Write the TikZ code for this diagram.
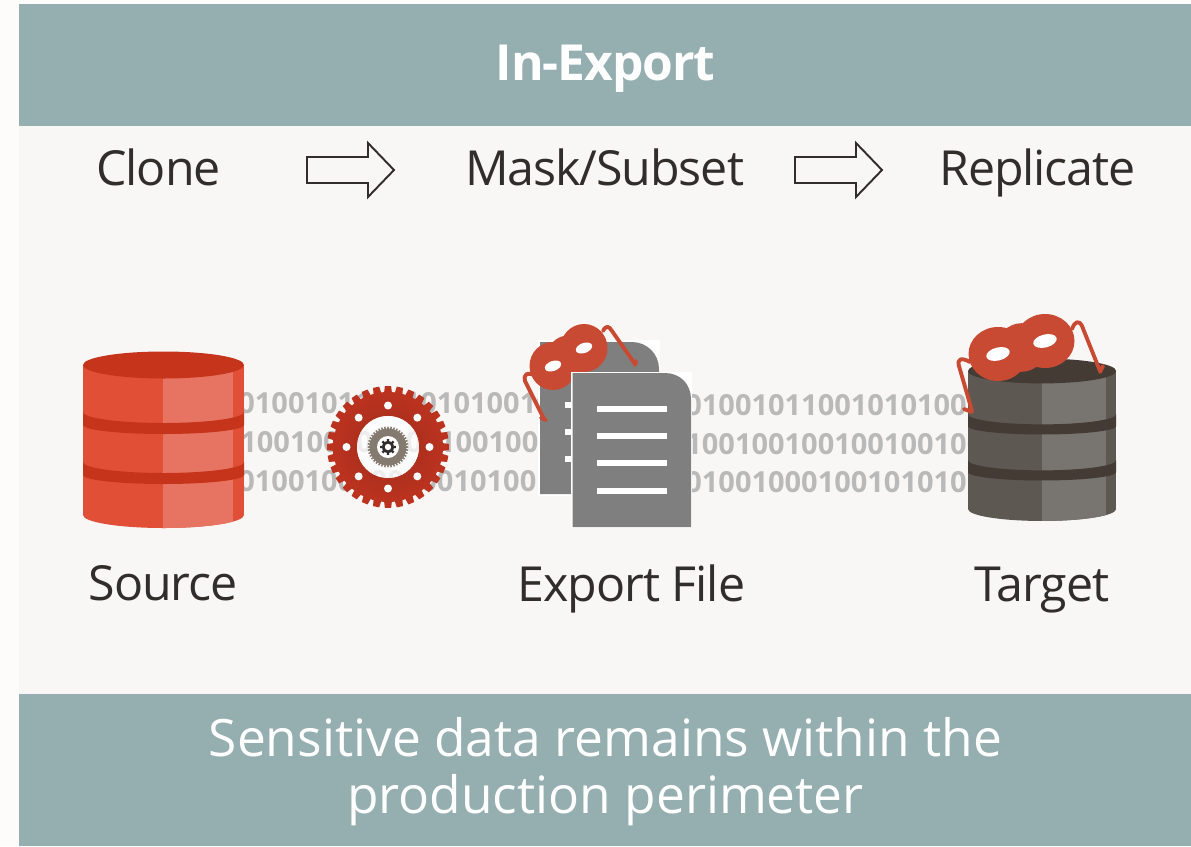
\documentclass[tikz,border=0pt]{standalone}
\usepackage{fontspec}
\setmainfont{Open Sans}
\newfontfamily\tightfont[LetterSpace=-2.2]{Open Sans}
\definecolor{panelbg}{HTML}{F8F7F5}
\definecolor{edgebg}{HTML}{FDFCFB}
\definecolor{bannerteal}{HTML}{95AEAF}
\definecolor{inktext}{HTML}{312D2A}
\definecolor{bitsgray}{HTML}{B9B9B9}
\definecolor{pagegray}{HTML}{7F7F7F}
\definecolor{maskred}{HTML}{C94A33}
\definecolor{gearred}{HTML}{BB331F}
\definecolor{geardark}{HTML}{9E2B1B}
\definecolor{geargray}{HTML}{857A70}
\definecolor{srcbase}{HTML}{E04F36}
\definecolor{srclight}{HTML}{E77362}
\definecolor{srctop}{HTML}{C5341B}
\definecolor{tgtbase}{HTML}{5D5852}
\definecolor{tgtlight}{HTML}{787570}
\definecolor{tgttop}{HTML}{443B35}
\tikzset{
  steplabel/.style={anchor=base, inner sep=0pt, text=inktext, font=\tightfont\fontsize{27.5}{30}\selectfont},
  bitsline/.style={anchor=base west, inner sep=0pt, text=bitsgray, font=\fontsize{16.5}{18}\selectfont\bfseries},
  blockarrow/.style={draw=inktext, line width=1.1pt, line join=miter},
  maskstrap/.style={draw=maskred, line width=2.2pt, line cap=round, line join=round},
  pageline/.style={fill=white}
}
% left x, top y, scale, then base, light and top colours
\newcommand{\dbcyl}[6]{
  \begin{scope}[shift={(#1, #2)}, scale=#3]
    \begin{scope}
      \clip (0, 0) -- (0, 150) arc [start angle=180, end angle=0, x radius=80.5, y radius=13] -- (161, 0) -- cycle;
      \fill [#4] (0, -5) rectangle (161, 170);
      \fill [#5] (80, -5) rectangle (150, 170);
    \end{scope}
    \fill [#6] (80.5, 0) ellipse [x radius=80.5, y radius=13.5];
    \fill [#6] (0, 47) arc [start angle=180, end angle=0, x radius=80.5, y radius=11] -- (161, 60)
      arc [start angle=0, end angle=180, x radius=80.5, y radius=9] -- cycle;
    \fill [#6] (0, 97) arc [start angle=180, end angle=0, x radius=80.5, y radius=11] -- (161, 110)
      arc [start angle=0, end angle=180, x radius=80.5, y radius=9] -- cycle;
  \end{scope}
}
% centre x, centre y, root radius, tip radius, teeth, half tooth angle, colour
\newcommand{\gearteeth}[7]{
  \foreach \n in {1, ..., #5} {
    \pgfmathsetmacro{\a}{\n * 360 / #5}
    \fill [#7] ($(#1, #2) + (\a - #6 : #3 - 1)$) -- ($(#1, #2) + (\a - #6 * 0.7 : #4)$)
      -- ($(#1, #2) + (\a + #6 * 0.7 : #4)$) -- ($(#1, #2) + (\a + #6 : #3 - 1)$) -- cycle;
  }
}
% left lobe x y, right lobe x y, lobe radii x y, eye radii x y, eye slope
\newcommand{\redmask}[9]{
  \fill [maskred] (#1, #2) ellipse [x radius=#5, y radius=#6];
  \fill [maskred] (#3, #4) ellipse [x radius=#5, y radius=#6];
  \fill [maskred] ($(#1, #2)!0.5!(#3, #4)$) circle [radius=#6 * 0.9];
  \fill [white, rotate around={#9:(#1, #2)}] (#1, #2) ellipse [x radius=#7, y radius=#8];
  \fill [white, rotate around={#9:(#3, #4)}] (#3, #4) ellipse [x radius=#7, y radius=#8];
}
\usetikzlibrary{calc}
\begin{document}
\begin{tikzpicture}[x=0.02cm, y=-0.02cm]
  \useasboundingbox (0, 0) rectangle (1191, 846);

  % Background
  \fill [edgebg] (0, 0) rectangle (1191, 846);
  \fill [panelbg] (19, 4) rectangle (1191, 846);
  \fill [bannerteal] (19, 4) rectangle (1191, 126);
  \fill [bannerteal] (19, 694) rectangle (1191, 846);

  % Banners
  \node [anchor=base, inner sep=0pt, text=white, font=\tightfont\fontsize{28.3}{30}\selectfont\bfseries]
    (title) at (605.5, 80) {In-Export};
  \node [align=center, inner sep=0pt, text=white, font=\fontsize{29.3}{32.4}\selectfont]
    (footer) at (605.5, 772) {Sensitive data remains within the\\production perimeter};

  % Steps
  \node [steplabel] (clone) at (158.5, 185) {Clone};
  \node [steplabel] (mask) at (604.5, 185) {Mask/Subset};
  \node [steplabel] (replicate) at (1037.5, 185) {Replicate};
  \draw [blockarrow] (307, 157) -- (368, 157) -- (368, 143) -- (394, 170) -- (368, 197) -- (368, 183) -- (307, 183) -- cycle;
  \draw [blockarrow] (795, 157) -- (856, 157) -- (856, 143) -- (882, 170) -- (856, 197) -- (856, 183) -- (795, 183) -- cycle;

  % Bits
  \node [bitsline] (bitsA) at (238, 413.5) {0100101100101010010};
  \node [bitsline] (bitsB) at (240, 452.5) {1001001001001001001};
  \node [bitsline] (bitsC) at (238, 491) {0100100100100101001};
  \node [bitsline] (bitsD) at (685, 415) {010010110010101001010};
  \node [bitsline] (bitsE) at (685, 454) {100100100100100100100};
  \node [bitsline] (bitsF) at (685, 492.5) {010010001001010101000};

  % Source
  \dbcyl{83}{365}{1}{srcbase}{srclight}{srctop}
  \node [steplabel] (source) at (163, 600) {Source};

  % Gear
  \gearteeth{388}{447}{55}{61}{32}{4.2}{gearred}
  \shade [even odd rule, inner color=geardark, outer color=gearred] (388, 447) circle [radius=55] circle [radius=31];
  \fill [white, opacity=0.75] (388, 447) circle [radius=31];
  \foreach \h in {0, 45, ..., 315}
    \fill [white] ($(388, 447) + (\h : 41.5)$) circle [radius=4];
  \gearteeth{388}{447}{18.5}{20.5}{40}{2.8}{geargray}
  \fill [geargray] (388, 447) circle [radius=18.5];
  \fill [white] (388, 447) circle [radius=11];
  \gearteeth{388}{447}{6}{8}{8}{12}{inktext}
  \fill [inktext] (388, 447) circle [radius=6];
  \fill [white] (388, 447) circle [radius=3.2];

  % Export File
  \fill [white] (538, 340) rectangle (660, 496);
  \fill [pagegray] (540, 494) -- (540, 342) -- (632, 342) .. controls (647, 342) and (659, 354) .. (659, 369) -- (659, 494) -- cycle;
  \foreach \y in {405, 432, 459}
    \fill [pageline] (565, \y - 3) rectangle (575, \y + 3);
  \redmask{553}{366}{584}{348}{23.5}{24}{8.5}{5}{20}
  \draw [maskstrap] (536, 376) .. controls (527, 371) and (523, 375) .. (525, 381) -- (544, 419) (541, 418) -- (546, 420);
  \draw [maskstrap] (603, 331) .. controls (606, 325) and (609, 326) .. (612, 331) -- (635, 364) (636, 361) -- (635, 365);
  \fill [white] (571, 372) rectangle (692, 528);
  \fill [pagegray] (572.5, 527) -- (572.5, 373) -- (665, 373) .. controls (680, 373) and (691, 384) .. (691, 399) -- (691, 527) -- cycle;
  \foreach \y in {409, 436, 463, 491}
    \fill [pageline] (597, \y - 3) rectangle (667, \y + 3);
  \node [steplabel] (export) at (631.5, 601) {Export File};

  % Target
  \dbcyl{968}{371}{0.92}{tgtbase}{tgtlight}{tgttop}
  \redmask{998}{354}{1045}{341}{29.5}{27}{12}{6.5}{14}
  \draw [maskstrap] (970, 362) .. controls (961, 357) and (957, 359) .. (959, 366) -- (972, 411) (964, 409) -- (972, 412);
  \draw [maskstrap] (1072, 329) .. controls (1075, 321) and (1079, 320) .. (1082, 326) -- (1100, 371) (1103, 366) -- (1100, 372);
  \node [steplabel] (target) at (1042, 601) {Target};
\end{tikzpicture}
\end{document}
